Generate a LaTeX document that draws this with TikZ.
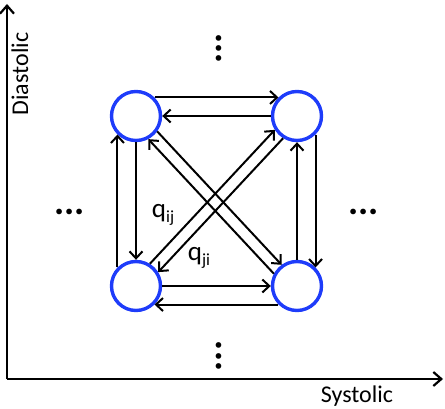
\documentclass[tikz,border=0pt]{standalone}
\usepackage{fontspec}
\setmainfont{Carlito}
\usetikzlibrary{arrows.meta}
\definecolor{stateblue}{RGB}{30,60,250}
\newcommand{\ratesub}[1]{{\fontsize{17}{17}\selectfont\raisebox{-5.5pt}{#1}}}

\begin{document}
\begin{tikzpicture}[x=1pt,y=1pt,
  state/.style={circle,draw=stateblue,line width=3.4pt,minimum size=49pt,inner sep=0pt},
  trans/.style={line width=2pt,-{Straight Barb[length=7pt,width=13pt]}},
  axis/.style={line width=2.2pt,-{Straight Barb[length=8pt,width=14pt]}},
  lab/.style={font=\fontsize{24}{24}\selectfont,inner sep=0pt},
  rate/.style={font=\fontsize{27}{27}\selectfont,inner sep=0pt},
  ellip/.style={font=\fontsize{38}{38}\selectfont\bfseries,inner sep=0pt}]
  \useasboundingbox (0,0) rectangle (445,408);
  % Axes
  \coordinate (origin) at (7,29);
  \coordinate (ytip) at (7,404);
  \coordinate (xtip) at (443,29);
  \draw[axis] (origin) -- (ytip);
  \draw[axis] (origin) -- (xtip);
  \node[lab,rotate=90] (ylab) at (20,334) {Diastolic};
  \node[lab] (xlab) at (357,12) {Systolic};
  % States
  \node[state] (tl) at (136,292) {};
  \node[state] (tr) at (297,292) {};
  \node[state] (bl) at (136,122) {};
  \node[state] (br) at (297,122) {};
  % Horizontal and vertical transitions
  \draw[trans] (tl.45) -- (tr.135);
  \draw[trans] (tr.180) -- (tl.0);
  \draw[trans] (bl.0) -- (br.180);
  \draw[trans] (br.225) -- (bl.315);
  \draw[trans] (bl.135) -- (tl.225);
  \draw[trans] (tl.270) -- (bl.90);
  \draw[trans] (br.90) -- (tr.270);
  \draw[trans] (tr.315) -- (br.45);
  % Diagonal transitions
  \draw[trans] (tl.-36) -- (br.126);
  \draw[trans] (br.152) -- (tl.-62);
  \draw[trans] (bl.58) -- (tr.212);
  \draw[trans] (tr.238) -- (bl.32);
  % Rates
  \node[rate] (qij) at (163,193) {q\ratesub{ij}};
  \node[rate] (qji) at (199,150) {q\ratesub{ji}};
  % Further states
  \node[ellip,rotate=90] (dtop) at (219,359.5) {...};
  \node[ellip,rotate=90] (dbot) at (219,52) {...};
  \node[ellip] (dleft) at (69.5,196) {...};
  \node[ellip] (dright) at (363.5,196) {...};
\end{tikzpicture}
\end{document}
